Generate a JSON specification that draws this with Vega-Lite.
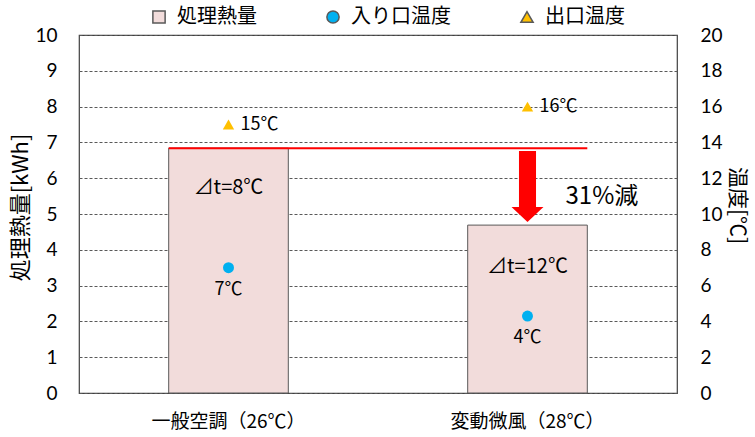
{
  "$schema": "https://vega.github.io/schema/vega-lite/v6.json",
  "width": 598,
  "height": 358,
  "autosize": {"type": "none"},
  "padding": {"left": 79, "top": 35, "right": 78, "bottom": 44},
  "background": "white",
  "config": {
    "view": {"stroke": "#404040", "strokeWidth": 1.2},
    "font": "Noto Sans CJK JP",
    "axis": {"labelColor": "#000000", "titleColor": "#000000", "titleFontWeight": "normal"},
    "legend": {"labelColor": "#000000"}
  },
  "layer": [
    {
      "encoding": {
        "x": {"field": "cat", "type": "nominal", "sort": null,
          "scale": {"paddingInner": 0.6, "paddingOuter": 0.3},
          "axis": {"title": null, "labelAngle": 0, "labelFont": "Noto Sans CJK JP", "labelFontSize": 19, "labelPadding": 19, "ticks": false, "domain": false}},
        "y": {"field": "heat", "type": "quantitative",
          "scale": {"domain": [0, 10], "nice": false},
          "axis": {"title": "処理熱量[kWh]", "titleFont": "Noto Sans CJK JP", "titleFontSize": 22, "titleX": -47, "titleY": 172,
            "values": [0,1,2,3,4,5,6,7,8,9,10], "labelFont": "Lato", "labelFontSize": 19, "labelPadding": 22, "ticks": false, "domain": false,
            "grid": true, "gridColor": "#595959", "gridDash": [3, 2], "gridWidth": 1}}
      },
      "layer": [
        {
          "data": {"values": [
            {"cat": "一般空調（26℃）", "heat": 6.84, "series": "処理熱量"},
            {"cat": "変動微風（28℃）", "heat": 4.69, "series": "処理熱量"}
          ]},
          "mark": {"type": "bar", "stroke": "#595959", "strokeWidth": 1},
          "encoding": {
            "color": {"field": "series", "type": "nominal",
              "scale": {"domain": ["処理熱量", "入り口温度", "出口温度"], "range": ["#F2DCDB", "#00B0F0", "#FFC000"]},
              "legend": {"title": null, "orient": "none", "legendX": 70, "legendY": -28, "direction": "horizontal",
                "labelFont": "Noto Sans CJK JP", "labelFontSize": 20, "symbolSize": 150, "labelOffset": 8, "columnPadding": 66}}
          }
        },
        {
          "data": {"values": [{"cat": "一般空調（26℃）", "to": "変動微風（28℃）", "heat": 6.84}]},
          "mark": {"type": "rule", "color": "#FF0000", "strokeWidth": 2},
          "encoding": {
            "x": {"field": "cat", "type": "nominal", "sort": null, "bandPosition": 0,
              "axis": {"title": null, "labelAngle": 0, "labelFont": "Noto Sans CJK JP", "labelFontSize": 19, "labelPadding": 19, "ticks": false, "domain": false}},
            "x2": {"field": "to", "bandPosition": 1}
          }
        },
        {
          "data": {"values": [{"cat": "変動微風（28℃）", "heat": 5.77}]},
          "mark": {"type": "point", "filled": true, "opacity": 1, "color": "#FF0000", "size": 5041, "dx": 3,
            "shape": "M-0.24,-1L0.24,-1L0.24,0.58L0.45,0.58L0,1L-0.45,0.58L-0.24,0.58Z"}
        },
        {
          "data": {"values": [
            {"cat": "一般空調（26℃）", "heat": 5.73, "label": "⊿t=8℃"},
            {"cat": "変動微風（28℃）", "heat": 3.51, "label": "⊿t=12℃"}
          ]},
          "mark": {"type": "text", "font": "Noto Sans CJK JP", "fontSize": 20, "baseline": "middle", "align": "center", "color": "#000000"},
          "encoding": {"text": {"field": "label"}}
        },
        {
          "data": {"values": [{"cat": "変動微風（28℃）", "heat": 5.47, "label": "31%減"}]},
          "mark": {"type": "text", "font": "Noto Sans CJK JP", "fontSize": 24, "baseline": "middle", "align": "left", "dx": 38, "color": "#000000"},
          "encoding": {"text": {"field": "label"}}
        }
      ]
    },
    {
      "encoding": {
        "x": {"field": "cat", "type": "nominal", "sort": null,
          "axis": {"title": null, "labelAngle": 0, "labelFont": "Noto Sans CJK JP", "labelFontSize": 19, "labelPadding": 19, "ticks": false, "domain": false}},
        "y": {"field": "temp", "type": "quantitative",
          "scale": {"domain": [0, 20], "nice": false},
          "axis": {"title": "温度[℃]", "titleFont": "Noto Sans CJK JP", "titleFontSize": 21, "titleAngle": 90, "titleX": 49, "titleY": 170,
            "values": [0,2,4,6,8,10,12,14,16,18,20], "labelFont": "Lato", "labelFontSize": 19, "labelPadding": 23, "ticks": false, "domain": false, "grid": false, "orient": "right"}}
      },
      "layer": [
        {
          "data": {"values": [
            {"cat": "一般空調（26℃）", "temp": 7, "series": "入り口温度"},
            {"cat": "変動微風（28℃）", "temp": 4.3, "series": "入り口温度"}
          ]},
          "mark": {"type": "point", "filled": true, "opacity": 1, "size": 120},
          "encoding": {
            "color": {"field": "series", "type": "nominal"},
            "shape": {"field": "series", "type": "nominal",
              "scale": {"domain": ["処理熱量", "入り口温度", "出口温度"], "range": ["square", "circle", "triangle-up"]}}
          }
        },
        {
          "data": {"values": [
            {"cat": "一般空調（26℃）", "temp": 15, "series": "出口温度"},
            {"cat": "変動微風（28℃）", "temp": 16, "series": "出口温度"}
          ]},
          "mark": {"type": "point", "filled": true, "opacity": 1, "size": 130},
          "encoding": {
            "color": {"field": "series", "type": "nominal"},
            "shape": {"field": "series", "type": "nominal"}
          }
        },
        {
          "data": {"values": [
            {"cat": "一般空調（26℃）", "temp": 7, "label": "7℃"},
            {"cat": "変動微風（28℃）", "temp": 4.3, "label": "4℃"}
          ]},
          "mark": {"type": "text", "font": "Noto Sans CJK JP", "fontSize": 18, "baseline": "middle", "align": "center", "dy": 22, "color": "#000000"},
          "encoding": {"text": {"field": "label"}}
        },
        {
          "data": {"values": [
            {"cat": "一般空調（26℃）", "temp": 15, "label": "15℃"},
            {"cat": "変動微風（28℃）", "temp": 16, "label": "16℃"}
          ]},
          "mark": {"type": "text", "font": "Noto Sans CJK JP", "fontSize": 18, "baseline": "middle", "align": "left", "dx": 12, "color": "#000000"},
          "encoding": {"text": {"field": "label"}}
        }
      ]
    }
  ],
  "resolve": {"scale": {"y": "independent"}}
}
